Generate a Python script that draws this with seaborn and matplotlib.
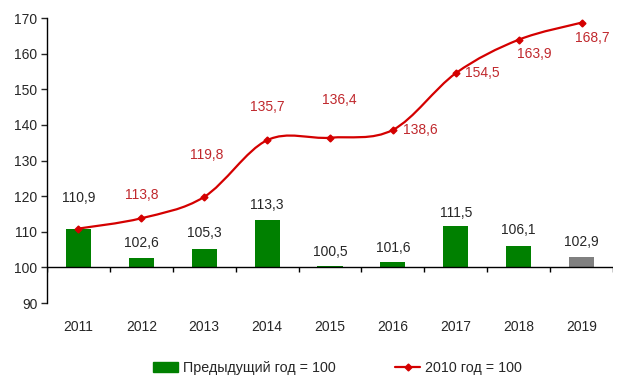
import numpy as np
import pandas as pd
import seaborn as sns
import matplotlib.pyplot as plt
from matplotlib.path import Path
from matplotlib.patches import PathPatch, Patch
from matplotlib.lines import Line2D

years = ['2011', '2012', '2013', '2014', '2015', '2016', '2017', '2018', '2019']
prev_year = [110.9, 102.6, 105.3, 113.3, 100.5, 101.6, 111.5, 106.1, 102.9]
base_2010 = [110.9, 113.8, 119.8, 135.7, 136.4, 138.6, 154.5, 163.9, 168.7]
bar_colors = ['#008000'] * 8 + ['#808080']

sns.set_style('white')
plt.rcParams['font.family'] = ['Liberation Sans', 'DejaVu Sans']
fs = 10

df = pd.DataFrame({'year': years, 'delta': [v - 100 for v in prev_year]})

fig = plt.figure(figsize=(6.3, 3.88), dpi=100)
ax = fig.add_axes([0.0746, 0.219, 0.8984, 0.7346])

sns.barplot(data=df, x='year', y='delta', hue='year', palette=bar_colors,
            saturation=1, legend=False, width=0.4, bottom=100,
            errorbar=None, ax=ax, linewidth=0)

# smoothed line (Catmull-Rom style, like Excel)
xs = np.arange(len(years), dtype=float)
ys = np.array(base_2010)
pts = np.column_stack([xs, ys])
verts = [pts[0]]
codes = [Path.MOVETO]
for i in range(len(pts) - 1):
    p0 = pts[i - 1] if i > 0 else pts[i]
    p1 = pts[i]
    p2 = pts[i + 1]
    p3 = pts[i + 2] if i + 2 < len(pts) else pts[i + 1]
    c1 = p1 + (p2 - p0) / 6
    c2 = p2 - (p3 - p1) / 6
    verts += [c1, c2, p2]
    codes += [Path.CURVE4] * 3
ax.add_patch(PathPatch(Path(verts, codes), fill=False, edgecolor='#d40000',
                       lw=1.6, zorder=3))
ax.plot(xs, ys, 'D', color='#d40000', ms=3.5, zorder=4)

# labels
red = '#c0282d'
bar_offsets = [22, 11, 11, 11, 10, 10, 10, 11, 11]
for i, v in enumerate(prev_year):
    ax.annotate(f'{v:.1f}'.replace('.', ','), (i, v),
                xytext=(0, bar_offsets[i]), textcoords='offset points',
                ha='center', va='center', fontsize=fs)
line_offsets = [None, (0, 17), (2, 30), (0, 24), (7, 27), (7, 0),
                (7, 0), (11.5, -10), (8, -11)]
line_ha = [None, 'center', 'center', 'center', 'center', 'left', 'left',
           'center', 'center']
for i, v in enumerate(base_2010):
    off = line_offsets[i]
    if off is None:
        continue
    ax.annotate(f'{v:.1f}'.replace('.', ','), (i, v), xytext=off,
                textcoords='offset points', ha=line_ha[i], va='center',
                fontsize=fs, color=red)

ax.set_xlim(-0.5, len(years) - 0.5)
ax.set_ylim(90, 170)
ax.set_yticks(range(90, 171, 10))
ax.axhline(100, color='black', lw=1, zorder=2)
ax.vlines(np.arange(-0.5, len(years)), 98.6, 100, color='black', lw=1)
ax.set_xlabel('')
ax.set_ylabel('')
for s in ['top', 'right', 'bottom']:
    ax.spines[s].set_visible(False)
ax.spines['left'].set_color('black')
ax.spines['left'].set_linewidth(1)
ax.tick_params(axis='y', left=True, length=4, width=1, labelsize=fs, pad=3)
ax.tick_params(axis='x', bottom=False, labelsize=fs, pad=9)

handles = [Patch(color='#008000', label='Предыдущий год = 100'),
           Line2D([], [], color='#d40000', marker='D', ms=3.5, lw=1.6,
                  label='2010 год = 100')]
fig.legend(handles=handles, loc='lower center', bbox_to_anchor=(0.535, 0.0),
           ncol=2, frameon=False, fontsize=10.3, columnspacing=4.15,
           handlelength=1.8, handletextpad=0.3)

fig.savefig('out.png', dpi=100)
